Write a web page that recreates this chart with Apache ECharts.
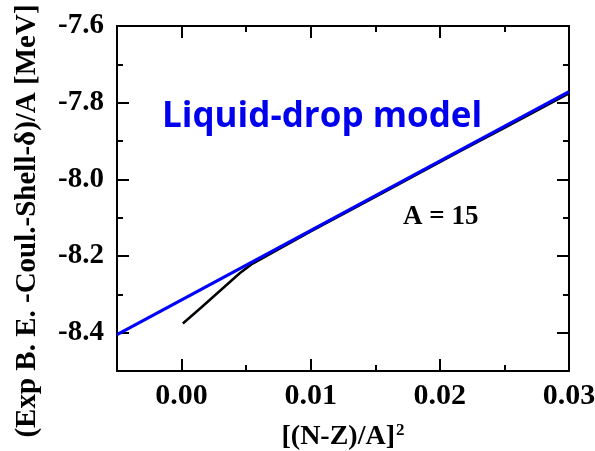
<!DOCTYPE html>
<html>
<head>
<meta charset="utf-8">
<script src="https://cdn.jsdelivr.net/npm/echarts@6/dist/echarts.min.js"></script>
<style>html,body{margin:0;padding:0;background:#fff}#c{width:595px;height:451px}</style>
</head>
<body>
<div id="c"></div>
<script>
// Data
var liquidDropX = [-0.005, 0.03];
var liquidDropY = [-8.405, -7.771];
var expX = [0.0001, 0.0015, 0.003, 0.0045, 0.0054, 0.010, 0.015, 0.0215, 0.025, 0.030];
var expY = [-8.376, -8.335, -8.290, -8.245, -8.222, -8.136, -8.046, -7.928, -7.866, -7.776];
var xMajorTicks = [0.00, 0.01, 0.02, 0.03];
var xMinorTicks = [0.005, 0.015, 0.025];
var yMajorTicks = [-8.4, -8.2, -8.0, -7.8, -7.6];
var yMinorTicks = [-8.3, -8.1, -7.9, -7.7];
var modelLabel = 'Liquid-drop model';
var massLabel = 'A = 15';
var xTitle = '[(N-Z)/A]';
var yTitle = '(Exp B. E. -Coul.-Shell-\u03b4)/A [MeV]';

function zip(a, b) { return a.map(function (v, i) { return [v, b[i]]; }); }

var serif = '"Liberation Serif", "Times New Roman", serif';
var lineStyle = { color: '#000', width: 2 };

function xAx(pos, ticks, len, labels, line) {
  return {
    type: 'value', position: pos, min: -0.005, max: 0.03,
    axisLine: { show: line, lineStyle: lineStyle, onZero: false },
    axisTick: { show: true, inside: true, length: len, lineStyle: lineStyle, customValues: ticks },
    axisLabel: labels ? {
      show: true, customValues: ticks, margin: 10,
      formatter: function (v) { return v.toFixed(2); },
      fontFamily: serif, fontWeight: 'bold', fontSize: 30, color: '#000'
    } : { show: false },
    splitLine: { show: false }
  };
}
function yAx(pos, ticks, len, labels, line) {
  return {
    type: 'value', position: pos, min: -8.5, max: -7.6,
    axisLine: { show: line, lineStyle: lineStyle, onZero: false },
    axisTick: { show: true, inside: true, length: len, lineStyle: lineStyle, customValues: ticks },
    axisLabel: labels ? {
      show: true, customValues: ticks, margin: 13,
      formatter: function (v) { return v.toFixed(1); },
      fontFamily: serif, fontWeight: 'bold', fontSize: 29, color: '#000'
    } : { show: false },
    splitLine: { show: false }
  };
}

var xAxes = [
  xAx('bottom', xMajorTicks, 12, true, true),
  xAx('bottom', xMinorTicks, 6, false, false),
  xAx('top', xMajorTicks, 12, false, true),
  xAx('top', xMinorTicks, 6, false, false)
];
xAxes[0].name = '{b|' + xTitle + '}{s|2}';
xAxes[0].nameLocation = 'middle';
xAxes[0].nameGap = 51;
xAxes[0].nameTextStyle = {
  rich: {
    b: { fontFamily: serif, fontWeight: 'bold', fontSize: 28, color: '#000' },
    s: { fontFamily: serif, fontWeight: 'bold', fontSize: 17, color: '#000', verticalAlign: 'top', padding: [0, 0, 12, 1] }
  }
};
var yAxes = [
  yAx('left', yMajorTicks, 12, true, true),
  yAx('left', yMinorTicks, 6, false, false),
  yAx('right', yMajorTicks, 12, false, true),
  yAx('right', yMinorTicks, 6, false, false)
];

var chart = echarts.init(document.getElementById('c'), null, { renderer: 'canvas' });
chart.setOption({
  animation: false,
  backgroundColor: '#fff',
  grid: { left: 117, right: 26, top: 26, bottom: 80, outerBoundsMode: 'none', containLabel: false },
  xAxis: xAxes,
  yAxis: yAxes,
  series: [
    { type: 'line', data: zip(expX, expY), showSymbol: false, smooth: false,
      lineStyle: { color: '#000', width: 2.5 }, z: 2 },
    { type: 'line', data: zip(liquidDropX, liquidDropY), showSymbol: false,
      lineStyle: { color: '#0000ff', width: 3.2 }, z: 3 }
  ],
  graphic: [
    { type: 'text', left: 162, top: 100,
      style: { text: modelLabel, font: 'bold 35px "Open Sans", sans-serif', fill: '#0000ee' } },
    { type: 'text', left: 403, top: 204,
      style: { text: massLabel, font: 'bold 27px "Liberation Serif", serif', fill: '#000' } },
    { type: 'text', x: 28, y: 221, rotation: Math.PI / 2,
      style: { text: yTitle, font: 'bold 29px "Liberation Serif", serif', fill: '#000',
               align: 'center', verticalAlign: 'middle' } }
  ]
});
</script>
</body>
</html>
